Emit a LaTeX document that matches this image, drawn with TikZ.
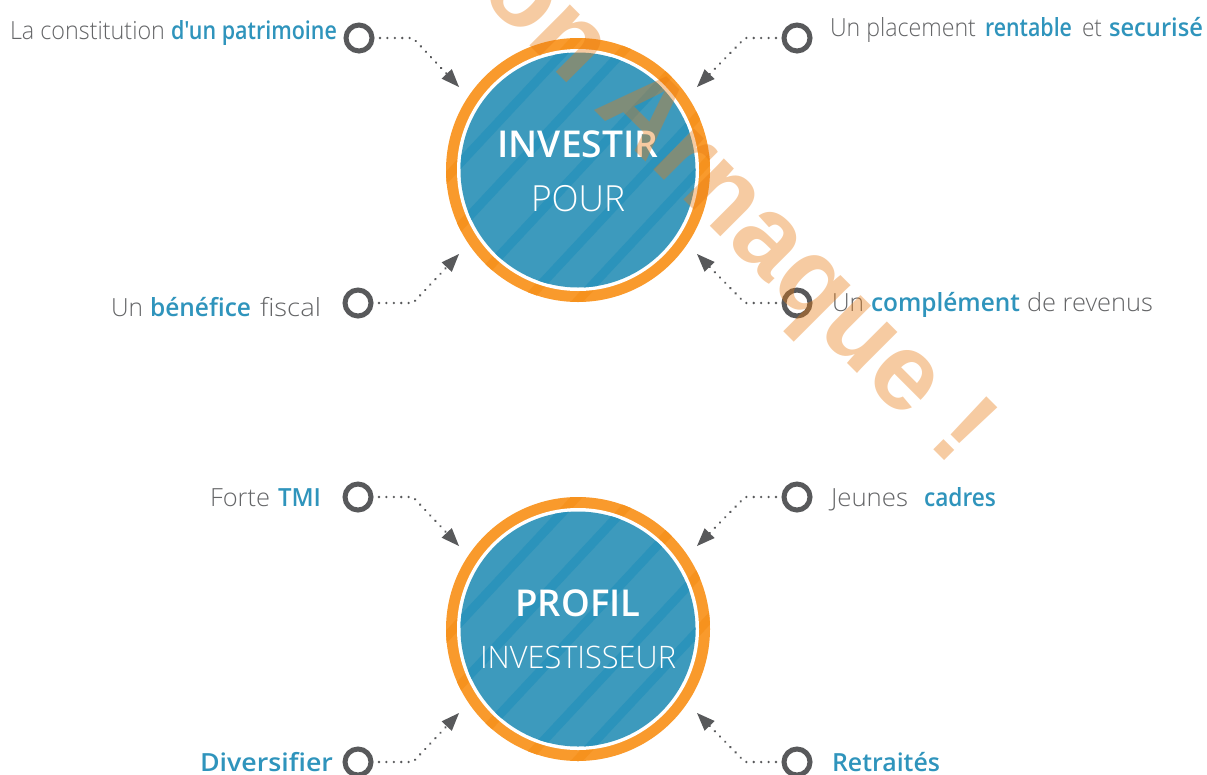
\documentclass[tikz,border=0pt]{standalone}
\usepackage{fontspec}
\usepackage{graphicx}
\usetikzlibrary{arrows.meta}
\setmainfont{Open Sans Light}
\newfontfamily\medfont{Open Sans Semibold}
\newfontfamily\wmfont{Liberation Sans Bold}
\definecolor{inkgray}{HTML}{58595B}
\definecolor{txtgray}{HTML}{646567}
\definecolor{hlblue}{HTML}{2F94BC}
\definecolor{ringorange}{HTML}{F99A2C}
\definecolor{ringdark}{HTML}{F6921E}
\definecolor{discblue}{HTML}{3D9ABD}
\definecolor{discdark}{HTML}{2B93BB}
\definecolor{wmorange}{HTML}{E8790F}
\newcommand{\fitw}[2]{\resizebox{#1pt}{\height}{#2}}
\newcommand{\hl}[2]{\fitw{#1}{\medfont\color{hlblue}#2}}
\newcommand{\bands}[1]{%
  \foreach \d in {-91,-48,1,51,89}{\fill[#1] (-150,\d-4.5) rectangle (150,\d+4.5);}}
\newcommand{\bigdisc}[3]{% name, x, y
  \node[ringnode] (#1) at (#2,#3) {};
  \begin{scope}
    \clip (#2,#3) circle[radius=132pt];
    \begin{scope}[shift={(#2,#3)},rotate=47]\bands{ringdark}\end{scope}
  \end{scope}
  \node[gapnode] (#1g) at (#2,#3) {};
  \node[discnode] (#1d) at (#2,#3) {};
  \begin{scope}
    \clip (#2,#3) circle[radius=117.5pt];
    \begin{scope}[shift={(#2,#3)},rotate=47]\bands{discdark}\end{scope}
  \end{scope}}
\tikzset{
  ringnode/.style={circle,inner sep=0,outer sep=0,minimum size=264pt,fill=ringorange},
  gapnode/.style={circle,inner sep=0,outer sep=0,minimum size=242pt,fill=white},
  discnode/.style={circle,inner sep=0,outer sep=0,minimum size=235pt,fill=discblue},
  bullet/.style={circle,inner sep=0,outer sep=0,minimum size=26pt,draw=inkgray,line width=5pt},
  conn/.style={draw=inkgray,line width=2.6pt,line cap=round,dash pattern=on 0.01pt off 7.4pt,
    shorten <=8pt,-{Triangle[length=18pt,width=14pt,fill=inkgray,line width=0pt]}},
  lab/.style={anchor=base west,inner sep=0,outer sep=0,text=txtgray,font=\fontsize{25}{30}\selectfont},
  hlab/.style={lab,text=hlblue,font=\fontsize{25}{30}\selectfont\medfont},
  title/.style={anchor=base,inner sep=0,outer sep=0,text=white}
}
\begin{document}
\begin{tikzpicture}[x=1pt,y=-1pt]
\useasboundingbox (0,0) rectangle (1207,774);
\bigdisc{inv}{578}{170}
\bigdisc{pro}{578}{629}
\node[title,font=\fontsize{37}{40}\selectfont\medfont] (t1) at (578,157) {\fitw{161}{INVESTIR}};
\node[title,font=\fontsize{36}{40}\selectfont] (t2) at (578,211) {\fitw{94}{POUR}};
\node[title,font=\fontsize{37}{40}\selectfont\medfont] (t3) at (578,616) {\fitw{125}{PROFIL}};
\node[title,font=\fontsize{31}{40}\selectfont] (t4) at (578,668) {\fitw{196}{INVESTISSEUR}};
% bullets
\node[bullet] (a) at (359,38) {};
\node[bullet] (b) at (797,38) {};
\node[bullet] (c) at (358,303) {};
\node[bullet] (d) at (797,303) {};
\node[bullet] (e) at (358,497) {};
\node[bullet] (f) at (797,497) {};
\node[bullet] (g) at (358,762) {};
\node[bullet] (h) at (797,762) {};
% arrow ends
\coordinate (ta) at (459,87);
\coordinate (tb) at (697,87);
\coordinate (tc) at (459,254);
\coordinate (td) at (697,254);
\coordinate (te) at (459,546);
\coordinate (tf) at (697,546);
\coordinate (tg) at (459,713);
\coordinate (th) at (697,713);
\draw[conn] (a.east) -- ++(41,0) -- (ta);
\draw[conn] (b.west) -- ++(-39,0) -- (tb);
\draw[conn] (c.east) -- ++(42,0) -- (tc);
\draw[conn] (d.west) -- ++(-39,0) -- (td);
\draw[conn] (e.east) -- ++(42,0) -- (te);
\draw[conn] (f.west) -- ++(-39,0) -- (tf);
\draw[conn] (g.east) -- ++(42,0) -- (tg);
\draw[conn] (h.west) -- ++(-39,0) -- (th);
% labels
\node[lab] (la) at (10,39) {\fitw{155}{La constitution}\hspace{6pt}\hl{166}{d'un patrimoine}};
\node[lab] (lb) at (830,36) {\fitw{146}{Un placement}\hspace{9pt}\hl{87}{rentable}\hspace{10pt}\fitw{20}{et}\hspace{7pt}\hl{94}{securisé}};
\node[lab] (lc) at (111,316) {\fitw{32}{Un}\hspace{7pt}\hl{101}{bénéfice}\hspace{9pt}\fitw{61}{fiscal}};
\node[lab] (ld) at (832,311) {\fitw{32}{Un}\hspace{7pt}\hl{149}{complément}\hspace{7pt}\fitw{126}{de revenus}};
\node[lab] (le) at (210,506) {\fitw{60}{Forte}\hspace{8pt}\hl{43}{TMI}};
\node[lab] (lf) at (831,506) {\fitw{77}{Jeunes}\hspace{16pt}\hl{72}{cadres}};
\node[hlab] (lg) at (200,771) {\fitw{133}{Diversifier}};
\node[hlab] (lh) at (832,771) {\fitw{108}{Retraités}};
% watermark
\begin{scope}
\clip (0,0) rectangle (1207,774);
\node[anchor=base east,inner sep=0,outer sep=0,rotate=-45,text=wmorange,text opacity=0.39,
  font=\fontsize{109}{120}\selectfont\wmfont] (wm) at (952.5,468.5) {on Arnaque !};
\end{scope}
\end{tikzpicture}
\end{document}
